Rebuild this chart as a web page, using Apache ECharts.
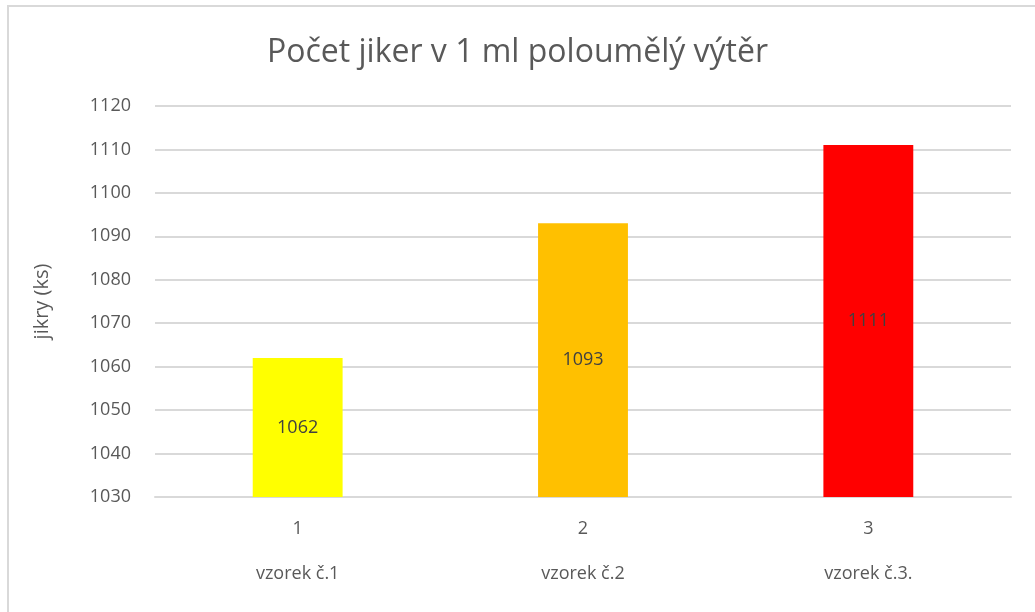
<!DOCTYPE html>
<html>
<head>
<meta charset="utf-8">
<script src="https://cdn.jsdelivr.net/npm/echarts@6/dist/echarts.min.js"></script>
<style>
  html, body { margin: 0; padding: 0; background: #fff; }
  #frame { position: absolute; left: 7px; top: 5px; width: 1100px; height: 700px;
           border-left: 2px solid #d9d9d9; border-top: 2px solid #d9d9d9; }
  #main { position: absolute; left: 0; top: 0; width: 1035px; height: 612px; }
</style>
</head>
<body>
<div id="frame"></div>
<div id="main"></div>
<script>
// data
const categories = ['1', '2', '3']
const sampleNames = ['vzorek č.1', 'vzorek č.2', 'vzorek č.3.']
const values = [1062, 1093, 1111]
const barColors = ['#FFFF00', '#FFC000', '#FF0000']

const font = 'Open Sans'
var myChart = echarts.init(document.getElementById('main'))

myChart.setOption({
  animation: false,
  title: {
    text: 'Počet jiker v 1 ml polouměl\u00fd výtěr',
    left: 'center',
    top: 32,
    textStyle: { fontFamily: font, fontSize: 32, fontWeight: 'normal', color: '#595959' }
  },
  grid: { left: 155, right: 24, top: 106, bottom: 115 },
  xAxis: {
    type: 'category',
    data: categories,
    axisLine: { lineStyle: { color: '#d9d9d9', width: 2 } },
    axisTick: { show: false },
    axisLabel: {
      margin: 9,
      fontFamily: font,
      fontSize: 18,
      color: '#595959',
      lineHeight: 45,
      formatter: (v, i) => v + '\n' + sampleNames[i]
    }
  },
  yAxis: {
    type: 'value',
    min: 1030,
    max: 1120,
    interval: 10,
    name: 'jikry (ks)',
    nameLocation: 'middle',
    nameGap: 103,
    nameTextStyle: { fontFamily: font, fontSize: 20, color: '#595959' },
    axisLine: { show: false },
    axisTick: { show: false },
    axisLabel: { fontFamily: font, fontSize: 18, color: '#595959', margin: 24, formatter: v => String(v) },
    splitLine: { lineStyle: { color: '#d9d9d9', width: 2 } }
  },
  series: [{
    type: 'bar',
    barWidth: '31.5%',
    data: values.map((v, i) => ({ value: v, itemStyle: { color: barColors[i] } })),
    label: {
      show: true,
      position: 'inside',
      fontFamily: font,
      fontSize: 18,
      color: '#404040'
    }
  }]
})
</script>
</body>
</html>
